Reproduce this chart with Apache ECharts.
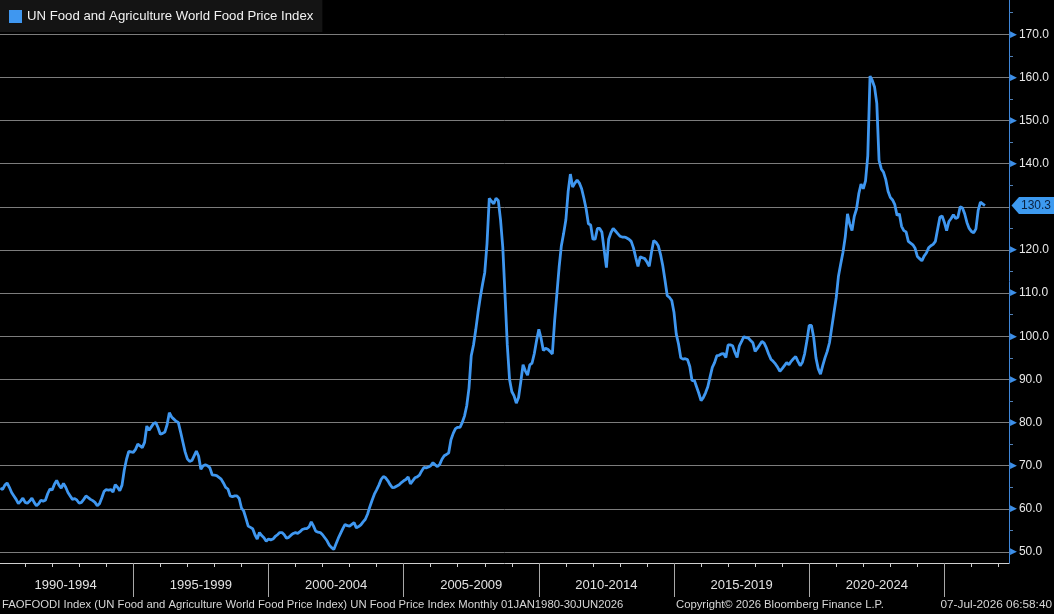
<!DOCTYPE html>
<html>
<head>
<meta charset="utf-8">
<title>UN Food and Agriculture World Food Price Index</title>
<script src="https://cdn.jsdelivr.net/npm/echarts@6/dist/echarts.min.js"></script>
<style>
  html, body { margin: 0; padding: 0; background: #000; }
  #main { width: 1054px; height: 614px; }
</style>
</head>
<body>
<div id="main"></div>
<script>
// monthly index values, Jan 1990 .. Jun 2026, one row per year
const startYear = 1990
const values = [
  64.8, 64.5, 65.5, 66.0, 65.0, 63.8, 63.0, 62.2, 61.2, 61.8, 62.5, 61.5,
  61.3, 61.8, 62.5, 61.5, 60.7, 61.2, 62.0, 61.8, 62.0, 63.5, 64.6, 64.4,
  65.7, 66.6, 65.5, 64.8, 65.9, 65.0, 63.8, 63.0, 62.2, 62.4, 62.0, 61.3,
  61.5, 62.2, 63.0, 62.6, 62.2, 61.9, 61.5, 60.7, 61.2, 62.5, 64.0, 64.5,
  64.3, 64.5, 63.9, 65.6, 65.0, 64.2, 65.5, 69.0, 71.5, 73.3, 73.2, 73.1,
  73.8, 75.0, 74.6, 74.2, 75.4, 79.2, 78.2, 79.0, 79.8, 80.0, 78.8, 77.3,
  77.5, 77.8, 79.5, 82.3, 81.3, 80.8, 80.3, 80.0, 77.8, 75.5, 73.2, 71.6,
  71.0, 71.2, 72.3, 73.4, 72.2, 69.2, 70.0, 70.2, 70.0, 69.5, 67.9, 67.8,
  67.7, 67.3, 66.9, 66.0, 65.0, 64.6, 63.0, 62.8, 63.0, 63.0, 62.4, 60.2,
  59.5, 57.8, 56.0, 55.7, 55.4, 54.0, 53.0, 54.5, 53.8, 53.3, 52.5, 53.0,
  52.8, 53.0, 53.6, 54.0, 54.5, 54.5, 54.0, 53.2, 53.4, 53.9, 54.3, 54.5,
  54.3, 54.7, 55.2, 55.4, 55.4, 55.8, 57.0, 56.0, 54.8, 54.6, 54.5, 54.0,
  53.3, 52.6, 51.6, 51.0, 50.6, 51.9, 53.2, 54.3, 55.4, 56.4, 56.1, 56.0,
  56.4, 56.8, 55.6, 55.9, 56.3, 57.0, 57.6, 58.8, 60.5, 62.0, 63.4, 64.4,
  65.5, 66.8, 67.5, 67.2, 66.5, 65.6, 64.9, 65.0, 65.3, 65.6, 66.1, 66.5,
  66.8, 67.4, 65.8, 66.5, 67.2, 67.4, 67.8, 68.8, 69.6, 69.5, 69.7, 70.0,
  70.7, 70.2, 69.8, 70.3, 71.5, 72.3, 72.6, 73.0, 76.0, 77.5, 78.6, 78.9,
  78.9, 80.0, 81.5, 83.9, 88.0, 95.5, 98.0, 101.5, 105.5, 109.0, 112.0, 114.8,
  121.5, 132.0, 131.3, 130.7, 132.0, 131.5, 127.0, 120.6, 109.5, 98.0, 90.0, 87.2,
  86.2, 84.5, 85.8, 89.5, 93.4, 92.0, 91.0, 93.4, 93.8, 96.0, 99.0, 101.6,
  99.5, 96.7, 97.2, 97.0, 96.5, 95.9, 103.5, 109.8, 116.0, 121.0, 123.8, 127.0,
  133.5, 137.6, 134.6, 135.5, 136.2, 135.5, 134.2, 132.0, 129.5, 126.1, 125.8, 122.5,
  122.5, 125.0, 125.0, 124.1, 120.0, 115.9, 122.5, 124.0, 125.0, 124.4, 123.8, 123.2,
  123.0, 123.0, 122.8, 122.5, 122.0, 120.5, 118.3, 116.2, 118.4, 118.2, 118.0, 117.2,
  116.2, 119.5, 122.2, 121.8, 121.0, 119.0, 116.4, 113.0, 109.4, 109.0, 108.3, 105.5,
  100.5, 98.2, 95.0, 94.7, 94.8, 94.6, 93.0, 89.7, 89.8, 88.3, 86.8, 85.1,
  85.8, 86.9, 88.3, 90.6, 92.8, 93.9, 95.5, 95.6, 95.9, 96.0, 95.1, 98.0,
  98.0, 97.8, 96.3, 95.1, 97.8, 98.8, 99.9, 99.7, 99.6, 99.0, 98.5, 96.5,
  97.2, 98.0, 98.8, 98.4, 97.3, 95.9, 94.7, 94.2, 93.6, 92.8, 91.9, 92.5,
  93.2, 93.9, 93.4, 94.2, 94.8, 95.3, 94.2, 93.2, 94.0, 96.0, 99.0, 102.5,
  102.5, 99.7, 95.0, 92.5, 91.2, 93.2, 95.0, 96.5, 98.5, 102.0, 105.5, 109.0,
  114.0, 116.8, 119.5, 123.0, 128.4, 126.0, 124.5, 127.8, 129.5, 133.0, 135.3, 134.2,
  136.0, 141.8, 160.3, 159.3, 157.8, 154.0, 140.8, 138.8, 138.0, 136.3, 133.6, 132.2,
  131.6, 130.5, 128.0, 128.4, 125.5, 124.5, 124.2, 122.0, 121.6, 121.2, 120.4, 118.5,
  118.0, 117.5, 118.6, 119.3, 120.5, 121.0, 121.3, 122.0, 124.8, 127.6, 127.9, 126.4,
  124.5, 126.6, 127.3, 128.2, 127.3, 127.6, 130.0, 129.8, 128.4, 126.4, 125.0, 124.3,
  124.0, 124.9, 129.2, 131.1, 130.7, 130.3
]
const periods = ['1990-1994', '1995-1999', '2000-2004', '2005-2009', '2010-2014', '2015-2019', '2020-2024']
const yTicks = [50, 60, 70, 80, 90, 100, 110, 120, 130, 140, 150, 160, 170]
const seriesName = 'UN Food and Agriculture World Food Price Index'
const footerLeft = 'FAOFOODI Index (UN Food and Agriculture World Food Price Index) UN Food Price Index Monthly 01JAN1980-30JUN2026'
const footerMid = 'Copyright\u00a9 2026 Bloomberg Finance L.P.'
const footerRight = '07-Jul-2026 06:58:40'

const FONT = '"Liberation Sans", Arial, sans-serif'
const BLUE = '#3f97f0'
const xMin = 1990.07
const xMax = 2027.39
const yMin = 47.45
const yMax = 177.95

// each month sits at its month end, in decimal years
const points = values.map((v, i) => [startYear + (i + 1) / 12, v])
const last = values[values.length - 1]

const yearTicks = []
for (let y = startYear + 1; y <= 2027; y++) yearTicks.push(y)
const periodEdges = periods.map((p, i) => startYear + 5 * (i + 1))
const periodMids = periods.map((p, i) => startYear + 5 * i + 2.5)
const minorY = yTicks.map(v => v + 5)

const chart = echarts.init(document.getElementById('main'))

const option = {
  backgroundColor: '#000000',
  animation: false,
  textStyle: { fontFamily: FONT },
  legend: {
    data: [seriesName],
    left: 0,
    top: 0,
    icon: 'rect',
    itemWidth: 13,
    itemHeight: 13,
    itemGap: 5,
    padding: [10, 9, 9, 9],
    backgroundColor: '#141414',
    textStyle: { color: '#f2f2f2', fontSize: 13.2, fontFamily: FONT },
    selectedMode: false
  },
  grid: { left: 0, right: 45, top: 0, bottom: 51, containLabel: false },
  xAxis: [
    {
      type: 'value',
      position: 'bottom',
      min: xMin,
      max: xMax,
      axisLine: { show: true, lineStyle: { color: '#cfcfcf', width: 1 } },
      axisTick: { show: true, customValues: yearTicks, length: 4, lineStyle: { color: '#cfcfcf' } },
      axisLabel: { show: false },
      splitLine: { show: false }
    },
    {
      type: 'value',
      position: 'bottom',
      min: xMin,
      max: xMax,
      axisLine: { show: false },
      axisTick: { show: true, customValues: periodEdges, length: 34, lineStyle: { color: '#a8a8a8' } },
      axisLabel: {
        show: true,
        customValues: periodMids,
        margin: 16,
        color: '#e2e2e2',
        fontSize: 13,
        fontFamily: FONT,
        formatter: v => periods[Math.round((v - 2.5 - startYear) / 5)] || ''
      },
      splitLine: { show: false }
    }
  ],
  yAxis: [
    {
      type: 'value',
      position: 'right',
      min: yMin,
      max: yMax,
      axisLine: { show: true, lineStyle: { color: '#3f86d8', width: 1 } },
      axisTick: { show: false, customValues: yTicks },
      axisLabel: {
        show: true,
        customValues: yTicks,
        margin: 1,
        formatter: v => Math.abs(v - last) < 3 ? '' : '{t|\u25B6}{v|' + v.toFixed(1) + '}',
        rich: {
          t: { color: '#3d8fe8', fontSize: 9, padding: [0, 2, 0, 0], fontFamily: 'DejaVu Sans' },
          v: { color: '#e8e8e8', fontSize: 12, fontFamily: FONT }
        }
      },
      splitLine: { show: true, lineStyle: { color: '#7c7c7c', width: 1 } }
    },
    {
      type: 'value',
      position: 'right',
      min: yMin,
      max: yMax,
      axisLine: { show: false },
      axisTick: { show: true, customValues: minorY, length: 4, lineStyle: { color: '#4f7fb5' } },
      axisLabel: { show: false },
      splitLine: { show: false }
    }
  ],
  series: [
    {
      name: seriesName,
      type: 'line',
      xAxisIndex: 0,
      yAxisIndex: 0,
      data: points,
      showSymbol: false,
      symbol: 'none',
      clip: false,
      color: BLUE,
      lineStyle: { color: BLUE, width: 2.8 },
      markPoint: {
        silent: true,
        symbol: 'path://M0,8.5 L8,0 L46,0 L46,17 L8,17 Z',
        symbolSize: [43, 17],
        symbolKeepAspect: false,
        symbolOffset: [24, 0],
        itemStyle: { color: '#3d9af0' },
        label: {
          show: true,
          position: 'inside',
          offset: [3, 0],
          color: '#0a2140',
          fontSize: 12,
          fontFamily: FONT,
          formatter: p => Number(p.value).toFixed(1)
        },
        data: [{ coord: [xMax, last], value: last }]
      }
    }
  ],
  graphic: [
    {
      type: 'text', left: 2, top: 599,
      style: { text: footerLeft, fill: '#d6d6d6', font: '11.3px ' + FONT }
    },
    {
      type: 'text', left: 676, top: 599,
      style: { text: footerMid, fill: '#d6d6d6', font: '11.3px ' + FONT }
    },
    {
      type: 'text', right: 2, top: 599,
      style: { text: footerRight, fill: '#d6d6d6', font: '11.8px ' + FONT }
    }
  ]
}

chart.setOption(option)
</script>
</body>
</html>
